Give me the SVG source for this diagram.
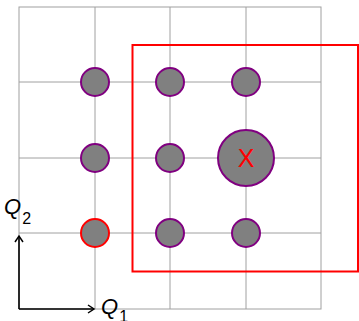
<svg xmlns="http://www.w3.org/2000/svg" width="359" height="321" viewBox="0 0 359 321">
<style>
.g{stroke:#a0a0a0;stroke-width:1;fill:none}
.c{fill:#808080;stroke:#800080;stroke-width:2}
.t{font-family:"Liberation Sans","DejaVu Sans",sans-serif;fill:#000}
.ax{stroke:#000;stroke-width:1.6;fill:none}
</style>
<defs>
<marker id="ah" markerWidth="10" markerHeight="10" refX="7" refY="5" orient="auto" markerUnits="userSpaceOnUse">
<path d="M1,1 L7,5 L1,9" fill="none" stroke="#000" stroke-width="1.5"/>
</marker>
</defs>
<g id="grid">
<rect class="g" x="19" y="7" width="302" height="302"/>
<path class="g" d="M95,7V309M170,7V309M246,7V309M19,82H321M19,158H321M19,233H321"/>
</g>
<g id="n1"><circle class="c" cx="95" cy="82" r="14"/></g>
<g id="n2"><circle class="c" cx="170" cy="82" r="14"/></g>
<g id="n3"><circle class="c" cx="246" cy="82" r="14"/></g>
<g id="n4"><circle class="c" cx="95" cy="158" r="14"/></g>
<g id="n5"><circle class="c" cx="170" cy="158" r="14"/></g>
<g id="n6"><circle class="c" cx="246" cy="158" r="28"/><text class="t" x="246" y="167" font-size="25" text-anchor="middle" style="fill:#ff0000">X</text></g>
<g id="n7"><circle cx="95" cy="233" r="14" fill="#808080" stroke="#ff0000" stroke-width="2"/></g>
<g id="n8"><circle class="c" cx="170" cy="233" r="14"/></g>
<g id="n9"><circle class="c" cx="246" cy="233" r="14"/></g>
<g id="box"><rect x="132.5" y="45" width="225.5" height="226.5" fill="none" stroke="#ff0000" stroke-width="2"/></g>
<g id="connectors">
<path class="ax" d="M19,309V236" marker-end="url(#ah)"/>
<path class="ax" d="M19,309H94" marker-end="url(#ah)"/>
</g>
<text class="t" x="4" y="214" font-size="22" font-style="italic">Q<tspan font-size="16" font-style="normal" dx="1" dy="10">2</tspan></text>
<text class="t" x="101" y="314" font-size="22" font-style="italic">Q<tspan font-size="16" font-style="normal" dx="1" dy="8">1</tspan></text>
</svg>
